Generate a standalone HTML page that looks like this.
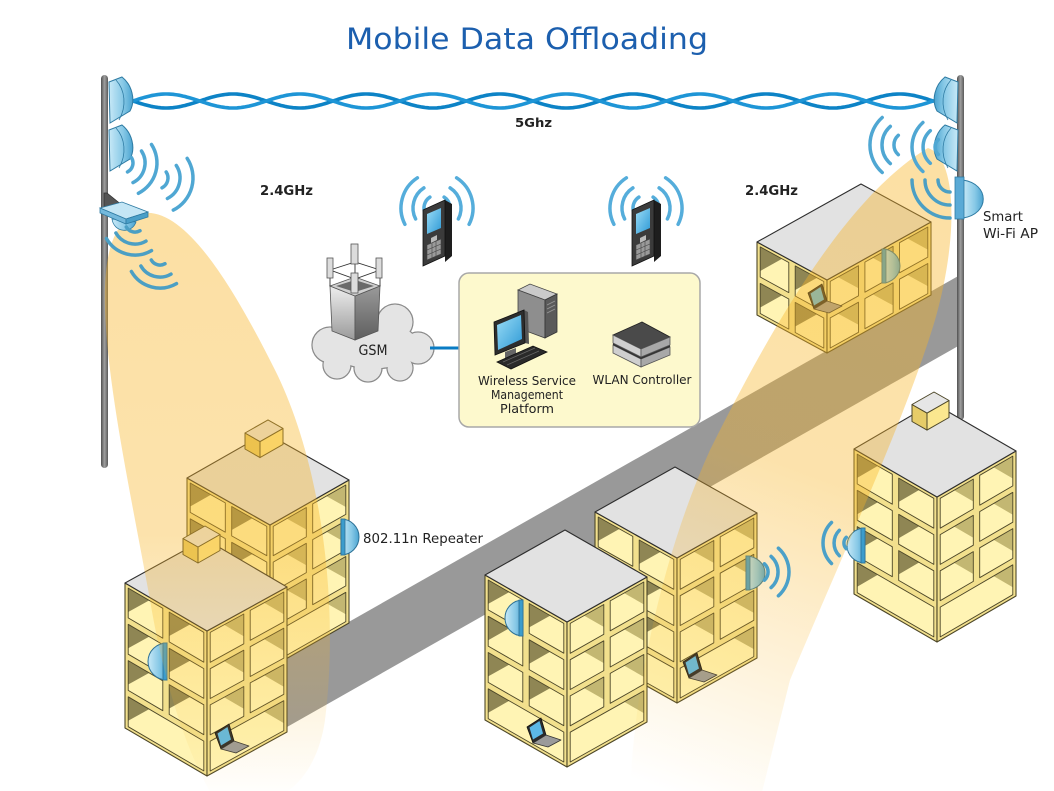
<!DOCTYPE html>
<html><head><meta charset="utf-8">
<style>
html,body{margin:0;padding:0;background:#fff;}
svg{display:block;}
text{font-family:"DejaVu Sans","Liberation Sans",sans-serif;}
</style></head>
<body>
<svg id="s" width="1054" height="791" viewBox="0 0 1054 791" xmlns="http://www.w3.org/2000/svg">
<defs>
 <linearGradient id="poleG" x1="0" y1="0" x2="1" y2="0">
  <stop offset="0" stop-color="#505050"/><stop offset="0.5" stop-color="#a0a0a0"/><stop offset="1" stop-color="#5a5a5a"/>
 </linearGradient>
 <linearGradient id="dish" x1="0" y1="0" x2="1" y2="0">
  <stop offset="0" stop-color="#c8e9f7"/><stop offset="0.6" stop-color="#86c8e6"/><stop offset="1" stop-color="#4aa3d0"/>
 </linearGradient>
 <linearGradient id="beamLG" gradientUnits="userSpaceOnUse" x1="0" y1="213" x2="0" y2="800">
  <stop offset="0" stop-color="#f8b425" stop-opacity="0.42"/>
  <stop offset="0.55" stop-color="#f8b425" stop-opacity="0.38"/>
  <stop offset="1" stop-color="#f8b425" stop-opacity="0"/>
 </linearGradient>
 <linearGradient id="beamRG" gradientUnits="userSpaceOnUse" x1="930" y1="150" x2="690" y2="800">
  <stop offset="0" stop-color="#f8b425" stop-opacity="0.42"/>
  <stop offset="0.5" stop-color="#f8b425" stop-opacity="0.38"/>
  <stop offset="1" stop-color="#f8b425" stop-opacity="0"/>
 </linearGradient>
 <linearGradient id="towerL" x1="0" y1="0" x2="0" y2="1">
  <stop offset="0" stop-color="#eeeeee"/><stop offset="1" stop-color="#9a9a9a"/>
 </linearGradient>
 <linearGradient id="towerR" x1="0" y1="0" x2="0" y2="1">
  <stop offset="0" stop-color="#9a9a9a"/><stop offset="1" stop-color="#5e5e5e"/>
 </linearGradient>
 <linearGradient id="scr" x1="0" y1="0" x2="1" y2="1">
  <stop offset="0" stop-color="#9adcf6"/><stop offset="1" stop-color="#2f9ad6"/>
 </linearGradient>
</defs>

<polygon points="287,657 960,275 960,345 287,727" fill="#999999"/>

<rect x="101" y="75" width="7" height="393" rx="3.5" fill="url(#poleG)"/>
<rect x="957" y="75" width="7" height="345" rx="3.5" fill="url(#poleG)"/>

<g id="bld"></g>

<path d="M145,213 C185,210 230,280 275,370 C320,460 340,600 325,720 C318,770 290,800 260,800 L215,800 C190,760 165,690 150,600 C130,490 108,390 105,310 C103,250 115,215 145,213 Z" fill="url(#beamLG)"/>
<path d="M928,148 C958,158 958,240 935,320 C905,420 840,560 790,680 L760,800 L630,800 C632,700 660,560 710,450 C760,350 840,200 928,148 Z" fill="url(#beamRG)"/>

<g id="wave"></g>

<g id="dishL">
 <path d="M109,82 L122,77 C132,85 136,100 130,111 L110,123 Z" fill="url(#dish)" stroke="#2e7ba3" stroke-width="1"/>
 <path d="M116,80 C125,90 127,106 119,120" fill="none" stroke="#2e7ba3" stroke-width="0.8"/>
 <path d="M109,130 L122,125 C132,133 136,148 130,159 L110,171 Z" fill="url(#dish)" stroke="#2e7ba3" stroke-width="1"/>
 <path d="M116,128 C125,138 127,154 119,168" fill="none" stroke="#2e7ba3" stroke-width="0.8"/>
</g>
<g transform="translate(1067,0) scale(-1,1)">
 <path d="M109,82 L122,77 C132,85 136,100 130,111 L110,123 Z" fill="url(#dish)" stroke="#2e7ba3" stroke-width="1"/>
 <path d="M116,80 C125,90 127,106 119,120" fill="none" stroke="#2e7ba3" stroke-width="0.8"/>
 <path d="M109,130 L122,125 C132,133 136,148 130,159 L110,171 Z" fill="url(#dish)" stroke="#2e7ba3" stroke-width="1"/>
 <path d="M116,128 C125,138 127,154 119,168" fill="none" stroke="#2e7ba3" stroke-width="0.8"/>
</g>
<polygon points="104,193 107,193 128,210 104,212" fill="#555" stroke="#333" stroke-width="0.8"/>
<path d="M112,219 C114,233 132,234 136,222 Z" fill="url(#dish)" stroke="#2e7ba3" stroke-width="0.8"/>
<polygon points="100,208 122,202 148,212 126,219" fill="#c4e6f5" stroke="#2e7ba3" stroke-width="0.8"/>
<polygon points="100,208 126,219 126,224 100,213" fill="#74b9dc" stroke="#2e7ba3" stroke-width="0.8"/>
<polygon points="126,219 148,212 148,217 126,224" fill="#4a9fc8" stroke="#2e7ba3" stroke-width="0.8"/>
<path d="M963,180 C990,184 990,214 963,218 Z" fill="url(#dish)" stroke="#2e7ba3" stroke-width="1"/>
<rect x="955" y="177" width="9" height="42" fill="#5aaad6" stroke="#2e7ba3" stroke-width="0.8"/>

<g id="arcs"></g>

<g fill="#e4e4e4" stroke="#8a8a8a" stroke-width="1.3">
 <circle cx="330" cy="345" r="18"/><circle cx="350" cy="320" r="16"/><circle cx="395" cy="322" r="18"/>
 <circle cx="418" cy="348" r="16"/><circle cx="400" cy="368" r="13"/><circle cx="368" cy="368" r="14"/>
 <circle cx="337" cy="365" r="14"/><ellipse cx="373" cy="345" rx="45" ry="24"/>
</g>
<g fill="#e4e4e4">
 <circle cx="330" cy="345" r="17.3"/><circle cx="350" cy="320" r="15.3"/><circle cx="395" cy="322" r="17.3"/>
 <circle cx="418" cy="348" r="15.3"/><circle cx="400" cy="368" r="12.3"/><circle cx="368" cy="368" r="13.3"/>
 <circle cx="337" cy="365" r="13.3"/><ellipse cx="373" cy="345" rx="44.3" ry="23.3"/>
</g>
<polygon points="330,286 355,296 355,340 332,331" fill="url(#towerL)" stroke="#555" stroke-width="0.8"/>
<polygon points="355,296 380,286 378,331 355,340" fill="url(#towerR)" stroke="#555" stroke-width="0.8"/>
<polygon points="330,286 355,277 380,286 355,296" fill="#d0d0d0" stroke="#555" stroke-width="0.8"/>
<polygon points="336,286 355,280 374,286 355,292" fill="#6a6a6a"/>
<g stroke="#333" stroke-width="0.9" fill="none">
 <polygon points="330,270 355,262 380,270 355,279"/>
 <line x1="330" y1="270" x2="330" y2="286"/><line x1="380" y1="270" x2="380" y2="286"/><line x1="355" y1="262" x2="355" y2="277"/>
</g>
<g fill="#dcdcdc" stroke="#555" stroke-width="0.8">
 <rect x="327" y="258" width="6" height="20"/><rect x="351" y="244" width="7" height="20"/>
 <rect x="376" y="258" width="6" height="20"/><rect x="351" y="273" width="7" height="20"/>
</g>

<line x1="430" y1="348" x2="460" y2="348" stroke="#0a7cc4" stroke-width="3"/>

<rect x="459" y="273" width="241" height="154" rx="10" fill="#fdf9cd" stroke="#a8a8a8" stroke-width="1.5"/>

<polygon points="518,290 530,284 557,294 545,300" fill="#cacaca" stroke="#444" stroke-width="0.8"/>
<polygon points="518,290 545,300 545,338 518,328" fill="#8e8e8e" stroke="#444" stroke-width="0.8"/>
<polygon points="545,300 557,294 557,332 545,338" fill="#5a5a5a" stroke="#333" stroke-width="0.8"/>
<g stroke="#999" stroke-width="0.8"><line x1="547" y1="305" x2="555" y2="301"/><line x1="547" y1="309" x2="555" y2="305"/><line x1="547" y1="313" x2="555" y2="309"/></g>
<polygon points="505,352 516,348 516,357 505,361" fill="#666"/>
<polygon points="524,310 528,312 529,344 525,343" fill="#555"/>
<polygon points="494,322 524,310 525,343 495,355" fill="#2d2d2d" stroke="#111" stroke-width="0.8"/>
<polygon points="497,325 521,315 522,339 498,350" fill="url(#scr)"/>
<polygon points="497,362 533,346 547,352 511,369" fill="#2a2a2a" stroke="#111" stroke-width="0.8"/>
<g stroke="#666" stroke-width="0.7"><line x1="503" y1="362" x2="535" y2="348"/><line x1="507" y1="365" x2="539" y2="351"/></g>

<polygon points="613,345 641,359 641,367 613,353" fill="#cfcfcf" stroke="#555" stroke-width="0.8"/>
<polygon points="641,359 670,347 670,355 641,367" fill="#a8a8a8" stroke="#555" stroke-width="0.8"/>
<polygon points="613,343 641,357 670,345 670,347 641,359 613,345" fill="#333"/>
<polygon points="613,335 642,322 670,337 641,349" fill="#4a4a4a" stroke="#222" stroke-width="0.8"/>
<polygon points="613,335 641,349 641,357 613,343" fill="#cfcfcf" stroke="#555" stroke-width="0.8"/>
<polygon points="641,349 670,337 670,345 641,357" fill="#a8a8a8" stroke="#555" stroke-width="0.8"/>

<g id="phone">
 <polygon points="445,200 452,204 452,256 445,262" fill="#1e1e1e"/>
 <polygon points="423,210 445,200 445,256 423,266" fill="#3b3b3b" stroke="#111" stroke-width="0.8"/>
 <polygon points="427,214 441,208 441,228 427,234" fill="url(#scr)"/>
 <polygon points="431,238 437,235 437,240 431,243" fill="#bbb"/>
 <polygon points="427,245 441,239 441,254 427,260" fill="#9a9a9a" stroke="#444" stroke-width="0.6"/>
 <g stroke="#444" stroke-width="0.6"><line x1="432" y1="243" x2="432" y2="258"/><line x1="436" y1="241" x2="436" y2="256"/><line x1="427" y1="250" x2="441" y2="244"/><line x1="427" y1="255" x2="441" y2="249"/></g>
</g>
<g transform="translate(209,0)">
 <polygon points="445,200 452,204 452,256 445,262" fill="#1e1e1e"/>
 <polygon points="423,210 445,200 445,256 423,266" fill="#3b3b3b" stroke="#111" stroke-width="0.8"/>
 <polygon points="427,214 441,208 441,228 427,234" fill="url(#scr)"/>
 <polygon points="431,238 437,235 437,240 431,243" fill="#bbb"/>
 <polygon points="427,245 441,239 441,254 427,260" fill="#9a9a9a" stroke="#444" stroke-width="0.6"/>
 <g stroke="#444" stroke-width="0.6"><line x1="432" y1="243" x2="432" y2="258"/><line x1="436" y1="241" x2="436" y2="256"/><line x1="427" y1="250" x2="441" y2="244"/><line x1="427" y1="255" x2="441" y2="249"/></g>
</g>

<text x="527" y="49" font-size="29" fill="#1c5fae" text-anchor="middle" textLength="362" lengthAdjust="spacingAndGlyphs">Mobile Data Offloading</text>
<text x="515" y="127" font-size="12" font-weight="bold" fill="#222" textLength="37" lengthAdjust="spacingAndGlyphs">5Ghz</text>
<text x="260" y="195" font-size="13" font-weight="bold" fill="#222" textLength="53" lengthAdjust="spacingAndGlyphs">2.4GHz</text>
<text x="745" y="195" font-size="13" font-weight="bold" fill="#222" textLength="53" lengthAdjust="spacingAndGlyphs">2.4GHz</text>
<text x="983" y="221" font-size="13.5" fill="#222" textLength="40" lengthAdjust="spacingAndGlyphs">Smart</text>
<text x="983" y="238" font-size="13.5" fill="#222" textLength="55" lengthAdjust="spacingAndGlyphs">Wi-Fi AP</text>
<text x="363" y="543" font-size="13.5" fill="#222" textLength="120" lengthAdjust="spacingAndGlyphs">802.11n Repeater</text>
<text x="373" y="355" font-size="14" fill="#222" text-anchor="middle" textLength="29" lengthAdjust="spacingAndGlyphs">GSM</text>
<text x="527" y="385" font-size="12.5" fill="#222" text-anchor="middle" textLength="98" lengthAdjust="spacingAndGlyphs">Wireless Service</text>
<text x="527" y="399" font-size="12.5" fill="#222" text-anchor="middle" textLength="72" lengthAdjust="spacingAndGlyphs">Management</text>
<text x="527" y="413" font-size="12.5" fill="#222" text-anchor="middle" textLength="54" lengthAdjust="spacingAndGlyphs">Platform</text>
<text x="642" y="384" font-size="12.5" fill="#222" text-anchor="middle" textLength="99" lengthAdjust="spacingAndGlyphs">WLAN Controller</text>
</svg>

<script>
(function(){
const NS='http://www.w3.org/2000/svg';
function el(tag,attrs,parent){const e=document.createElementNS(NS,tag);for(const k in attrs)e.setAttribute(k,attrs[k]);parent.appendChild(e);return e;}
const f=v=>v.toFixed(1);
const P=pts=>pts.map(p=>f(p[0])+','+f(p[1])).join(' ');
const add=(a,b)=>[a[0]+b[0],a[1]+b[1]];
const mul=(a,k)=>[a[0]*k,a[1]*k];
const OUT='#4d4728';
const B=document.getElementById('bld');
function poly(parent,pts,fill,stroke,sw){return el('polygon',{points:P(pts),fill:fill,stroke:stroke||'none','stroke-width':sw||1,'stroke-linejoin':'round'},parent);}

function face(O,w,h,cols,rows,lobby,dark,side,d){
  const O2=add(O,w);
  poly(B,[O,O2,add(O2,[0,h]),add(O,[0,h])],'#f2e08d',OUT,1.1);
  const t=3.2, ix=t/Math.abs(w[0]);
  for(let j=0;j<rows;j++){
    const nc=(lobby&&j===rows-1)?1:cols;
    for(let i=0;i<nc;i++){
      const a0=i/nc+ix, a1=(i+1)/nc-ix;
      const y0=j*h/rows+t, y1=(j+1)*h/rows-t;
      const ch=y1-y0;
      const P00=add(add(O,mul(w,a0)),[0,y0]);
      const P10=add(add(O,mul(w,a1)),[0,y0]);
      const P11=add(add(O,mul(w,a1)),[0,y1]);
      const P01=add(add(O,mul(w,a0)),[0,y1]);
      poly(B,[P00,P10,P11,P01],dark,'none');
      let pts;
      const st=(P10[1]-P00[1])/(P10[0]-P00[0]);
      if(side==='L'){
        const S=[P01[0],P01[1]-0.2*ch];
        const tr=(P10[0]-S[0])/d[0]; const yr=S[1]+tr*d[1];
        if(yr>=P10[1]) pts=[S,P01,P11,[P10[0],yr]];
        else { const tt=(P00[1]-S[1])/(d[1]-d[0]*st); pts=[S,P01,P11,P10,add(S,mul(d,tt))]; }
      } else {
        const S=[P11[0],P11[1]-0.25*ch];
        const tl=(P00[0]-S[0])/d[0]; const yl=S[1]+tl*d[1];
        if(yl>=P00[1]) pts=[S,P11,P01,[P00[0],yl]];
        else { const tt=(P10[1]-S[1])/(d[1]-d[0]*st); pts=[S,P11,P01,P00,add(S,mul(d,tt))]; }
      }
      poly(B,pts,'#fff4b4','none');
      poly(B,[P00,P10,P11,P01],'none',OUT,0.9);
    }
  }
}
function building(L,u,v,h,nl,nr,rows,lobby){
  const F=add(L,u),R=add(F,v),T=add(L,v);
  const nv=Math.hypot(v[0],v[1]), nu=Math.hypot(u[0],u[1]);
  face(L,u,h,nl,rows,lobby,'#8f8654','L',[v[0]/nv,v[1]/nv]);
  face(F,v,h,nr,rows,lobby,'#c3b772','R',[-u[0]/nu,-u[1]/nu]);
  poly(B,[L,T,R,F],'#e2e2e2','#2e2e2e',1.1);
}
function box(x0,y0,a,b,hb){
  const L=[x0,y0],u=[a,0.57*a],v=[b,-0.57*b];
  const F=add(L,u),R=add(F,v),T=add(L,v);
  poly(B,[L,F,add(F,[0,hb]),add(L,[0,hb])],'#e6cc68',OUT,1);
  poly(B,[F,R,add(R,[0,hb]),add(F,[0,hb])],'#fbe78f',OUT,1);
  poly(B,[L,T,R,F],'#e6e6e6',OUT,1);
}
function laptop(x,y){
  poly(B,[[x,y+13],[x+14,y+4],[x+19,y+21],[x+6,y+29]],'#2b2b2b','#111',0.8);
  poly(B,[[x+2.5,y+13.5],[x+12.5,y+7],[x+16,y+19.5],[x+6,y+25.5]],'#5cb8e6');
  poly(B,[[x+6,y+29],[x+19,y+21],[x+34,y+26],[x+21,y+33]],'#9a9a9a','#333',0.8);
}
function rep(x,yT,yB,dir,bulge){
  const r=(yB-yT)/2;
  el('path',{d:'M'+x+','+yT+' A'+bulge+','+r+' 0 0 '+(dir>0?1:0)+' '+x+','+yB+' Z',fill:'url(#dish)',stroke:'#2d7196','stroke-width':1},B);
  el('rect',{x:(dir>0?x:x-4),y:yT,width:4,height:yB-yT,fill:'#3c9ccc',stroke:'#2d7196','stroke-width':0.8},B);
}

building([757,242],[70,38],[104,-58],73,2,3,2,false);
laptop(808,280);
rep(882,249,283,1,18);
building([187,478],[83,47],[79,-45],143,2,2,4,true);
box(245,433,15,23,16);
rep(341,519,555,1,18);
building([125,583],[82,48],[80,-44],145,2,2,4,true);
box(183,538.5,15,22,16);
rep(167,643,680,-1,19);
laptop(215,720);
building([595,512],[82,46],[80,-45],145,2,2,4,true);
rep(746,556,590,1,19);
laptop(683,649);
building([485,575],[82,47],[80,-45],145,2,2,4,true);
rep(523,600,636,-1,18);
laptop(527,714);
building([854,449],[83,48],[79,-46],145,2,2,4,true);
box(912,404.5,15,22,17);
rep(865,528,563,-1,18);

const W=document.getElementById('wave');
const cols=['#0d83c6','#1e95d6'];
[1,-1].forEach((s,k)=>{
  let d='';
  for(let x=133;x<=933;x+=2){const y=101+s*7*Math.sin(Math.PI*(x-133)/66.667);d+=(x===133?'M':'L')+x+','+f(y);}
  el('path',{d:d,fill:'none',stroke:cols[k],'stroke-width':3.6,'stroke-linejoin':'round','stroke-linecap':'round'},W);
});

const A=document.getElementById('arcs');
function arcs(cx,cy,dir,radii,spread,col,sw){
  radii.forEach(r=>{
    const a0=(dir-spread)*Math.PI/180,a1=(dir+spread)*Math.PI/180;
    const x0=cx+r*Math.cos(a0),y0=cy+r*Math.sin(a0),x1=cx+r*Math.cos(a1),y1=cy+r*Math.sin(a1);
    el('path',{d:'M'+f(x0)+','+f(y0)+' A'+r+','+r+' 0 0 1 '+f(x1)+','+f(y1),fill:'none',stroke:col||'#4fa7d3','stroke-width':sw||3.5,'stroke-linecap':'round'},A);
  });
}
arcs(123,163,15,[10,22,34],48);
arcs(157,178,15,[11,23,36],48);
arcs(135,222,105,[10,22,33],45,'#4b9fc4');
arcs(160,255,105,[10,22,33],45,'#4b9fc4');
arcs(907,145,180,[13,25,37],48);
arcs(945,147,180,[10,22,33],48);
arcs(950,180,135,[12,25,38],45,'#4b9fc4');
arcs(437,208,195,[13,24,36],42,'#55addb');
arcs(437,208,-15,[13,24,36],42,'#55addb');
arcs(646,208,195,[13,24,36],42,'#55addb');
arcs(646,208,-15,[13,24,36],42,'#55addb');
arcs(852,543,180,[8,18,29],45,'#4ba0c8');
arcs(757,572,0,[11,21,32],48,'#4ba0c8');
})();
</script>
</body></html>
